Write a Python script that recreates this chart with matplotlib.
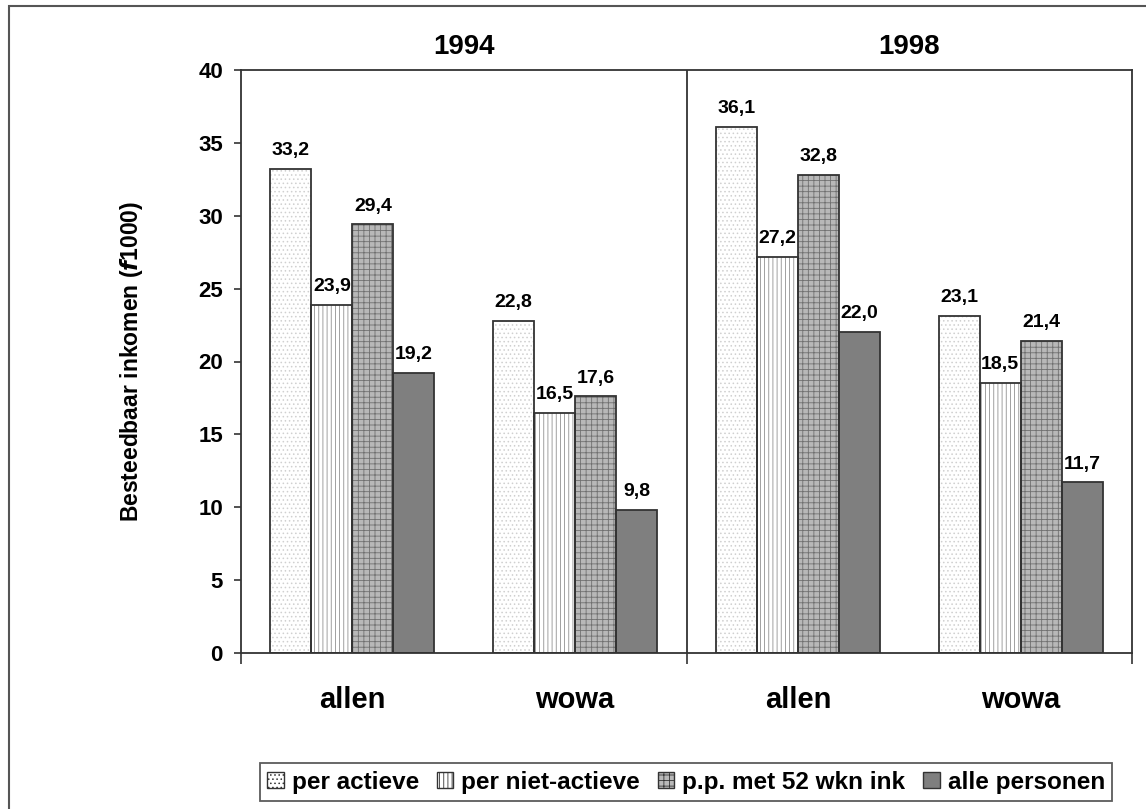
import matplotlib.pyplot as plt
from matplotlib.patches import Rectangle
import numpy as np

plt.rcParams['font.family'] = ['Liberation Sans', 'DejaVu Sans']
plt.rcParams['font.weight'] = 'bold'
plt.rcParams['hatch.linewidth'] = 0.6

jaren = ['1994', '1998']
groepen = ['allen', 'wowa', 'allen', 'wowa']
reeksen = ['per actieve', 'per niet-actieve', 'p.p. met 52 wkn ink', 'alle personen']
waarden = [
    [33.2, 22.8, 36.1, 23.1],   # per actieve
    [23.9, 16.5, 27.2, 18.5],   # per niet-actieve
    [29.4, 17.6, 32.8, 21.4],   # p.p. met 52 wkn ink
    [19.2, 9.8, 22.0, 11.7],    # alle personen
]

# opmaak per reeks: vulkleur, arcering, arceerkleur
stijlen = [
    ('white', '....', '#d0d0d0'),
    ('white', '||||', '#909090'),
    ('#b8b8b8', '+++', '#707070'),
    ('#7f7f7f', None, '#7f7f7f'),
]

W, H = 1146, 809
fig = plt.figure(figsize=(W/100, H/100), dpi=100)
ax = fig.add_axes([241/W, 1 - 653/H, (1132-241)/W, (653-70)/H])

x = np.arange(len(groepen))
breedte = 0.184
lijn = '#333333'
for i, (naam, vals) in enumerate(zip(reeksen, waarden)):
    fc, hatch, hc = stijlen[i]
    pos = x + (i - 1.5) * breedte
    bars = ax.bar(pos, vals, breedte, facecolor=fc, edgecolor=hc, hatch=hatch,
                  linewidth=0, label=naam, zorder=2)
    # zwarte rand los tekenen
    ax.bar(pos, vals, breedte, facecolor='none', edgecolor=lijn, linewidth=1.3, zorder=3)
    for b, v in zip(bars, vals):
        ax.annotate(f'{v:.1f}'.replace('.', ','), (b.get_x() + b.get_width()/2, v),
                    xytext=(0, 10), textcoords='offset points', ha='center', va='baseline',
                    fontsize=14, fontweight='bold')

ax.set_xlim(-0.5, 3.5)
ax.set_ylim(0, 40)
ax.set_yticks(range(0, 41, 5))
ax.set_xticks([-0.5, 1.5, 3.5])
ax.set_xticklabels([])
ax.tick_params(axis='y', labelsize=16, length=5, width=1.2, color=lijn, pad=8)
ax.tick_params(axis='x', length=8, width=1.2, color=lijn)
for s in ax.spines.values():
    s.set_color(lijn)
    s.set_linewidth(1.3)
ax.axvline(1.5, color=lijn, lw=1.3, zorder=4)

for xi, g in zip(x, groepen):
    ax.text(xi, -3.75, g, ha='center', va='baseline', fontsize=21, fontweight='bold')

for j, jaar in enumerate(jaren):
    ax.text(0.5 + 2*j, 41.6, jaar, ha='center', va='center', fontsize=20, fontweight='bold')

ax.set_ylabel('Besteedbaar inkomen ($\\mathbfit{f}$1000)', fontsize=16.5, fontweight='bold')
ax.yaxis.set_label_coords(-(241-145)/891, 0.5)

# buitenkader
fig.add_artist(Rectangle((9/W, -0.02), 1.1, 1 - 6/H + 0.02, transform=fig.transFigure,
                         fill=False, edgecolor='#555555', linewidth=1.5))

handles, labels = ax.get_legend_handles_labels()
leg = fig.legend(handles, labels, loc='center', bbox_to_anchor=(686/W, 1 - 782/H), ncol=4,
                 frameon=True, fancybox=False, edgecolor=lijn,
                 handlelength=0.68, handleheight=0.68, handletextpad=0.34, columnspacing=0.72,
                 borderpad=0.3, prop={'weight': 'bold', 'size': 17.5})
leg.get_frame().set_linewidth(1.3)
for h in leg.legend_handles:
    h.set_edgecolor(lijn)
    h.set_linewidth(1.0)

fig.savefig('out.png', dpi=100)
